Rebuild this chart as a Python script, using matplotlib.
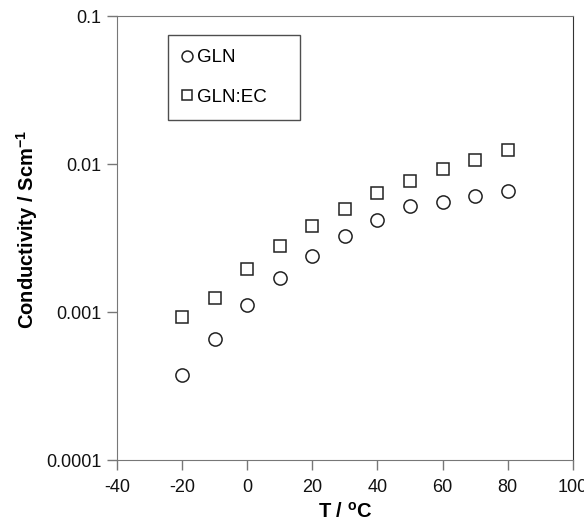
import matplotlib
matplotlib.use('Agg')
import matplotlib.pyplot as plt

plt.rcParams['font.family'] = ['Liberation Sans', 'DejaVu Sans']
plt.rcParams['axes.unicode_minus'] = False

# temperatures (degC)
temp = [-20, -10, 0, 10, 20, 30, 40, 50, 60, 70, 80]

# conductivity in S/cm
gln = [3.75e-4, 6.6e-4, 1.11e-3, 1.70e-3, 2.39e-3, 3.28e-3, 4.21e-3, 5.2e-3, 5.5e-3, 6.05e-3, 6.55e-3]
gln_ec = [9.3e-4, 1.25e-3, 1.94e-3, 2.81e-3, 3.81e-3, 4.99e-3, 6.34e-3, 7.64e-3, 9.25e-3, 1.06e-2, 1.24e-2]

xticks = [-40, -20, 0, 20, 40, 60, 80, 100]
yticks = [0.0001, 0.001, 0.01, 0.1]
ytick_labels = ['0.0001', '0.001', '0.01', '0.1']

fig = plt.figure(figsize=(5.84, 5.31), dpi=100)
ax = fig.add_axes([0.2, 0.1337, 0.781, 0.836])

ax.plot(temp, gln, 'o', mfc='none', mec='#222222', mew=1.1, ms=9.5, label='GLN')
ax.plot(temp, gln_ec, 's', mfc='none', mec='#222222', mew=1.1, ms=9, label='GLN:EC')

ax.set_yscale('log')
ax.set_xlim(-40, 100)
ax.set_ylim(1e-4, 0.1)
ax.set_xticks(xticks)
ax.set_yticks(yticks)
ax.set_yticklabels(ytick_labels)
ax.minorticks_off()
ax.tick_params(direction='out', length=7, width=1, colors='#777777', labelcolor='#111111',
               labelsize=13)
ax.tick_params(axis='x', pad=7)
ax.tick_params(axis='y', pad=4)

for s in ['left', 'bottom', 'top']:
    ax.spines[s].set_color('#777777')
ax.spines['right'].set_color('#333333')

ax.set_xlabel('T / $^{\\mathregular{o}}$C', fontsize=14.5, fontweight='bold', labelpad=4)
ax.set_ylabel('Conductivity / Scm$^{\\mathregular{-1}}$', fontsize=14.5, fontweight='bold')
ax.yaxis.set_label_coords(-0.168, 0.52)

leg = ax.legend(loc='upper left', bbox_to_anchor=(0.112, 0.764, 0.29, 0.193), mode='expand',
                borderaxespad=0, fancybox=False, edgecolor='#222222', fontsize=13.5,
                labelspacing=1.2, handletextpad=0.3, handlelength=0.5, borderpad=0.75,
                markerscale=0.83)
leg.get_frame().set_linewidth(1.0)

fig.savefig('out.png', dpi=100, facecolor='white')
